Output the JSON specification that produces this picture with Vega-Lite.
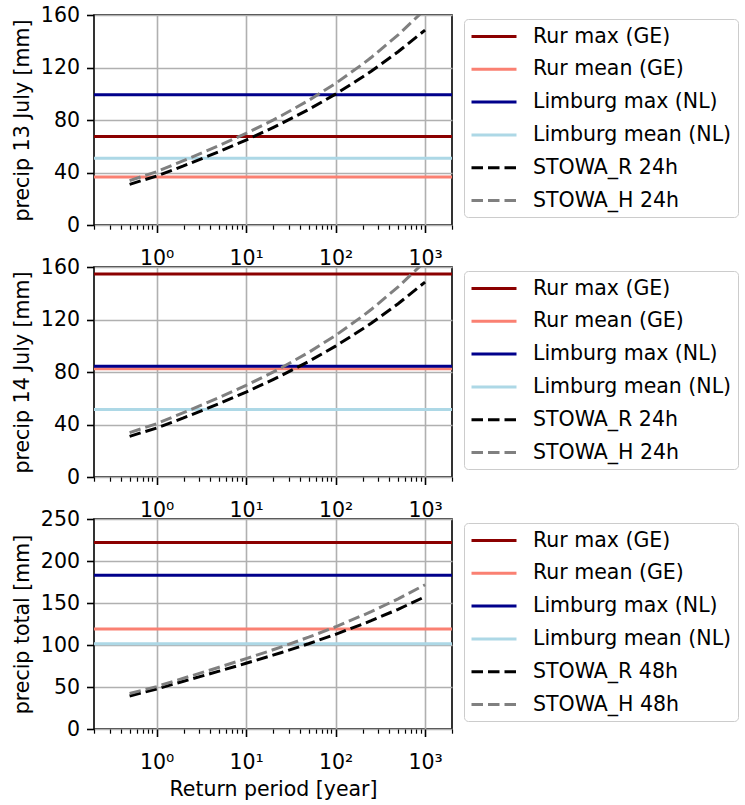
{
  "$schema": "https://vega.github.io/schema/vega-lite/v6.json",
  "padding": {"left": 11, "top": 4, "right": 0, "bottom": 0},
  "background": "white",
  "bounds": "flush",
  "spacing": 42,
  "datasets": {
    "c24": [
      {"series": "STOWA_R 24h", "T": 0.5, "precip": 31.0},
      {"series": "STOWA_R 24h", "T": 1, "precip": 37.3},
      {"series": "STOWA_R 24h", "T": 2, "precip": 45.0},
      {"series": "STOWA_R 24h", "T": 5, "precip": 55.9},
      {"series": "STOWA_R 24h", "T": 10, "precip": 64.7},
      {"series": "STOWA_R 24h", "T": 20, "precip": 74.2},
      {"series": "STOWA_R 24h", "T": 25, "precip": 77.4},
      {"series": "STOWA_R 24h", "T": 50, "precip": 88.0},
      {"series": "STOWA_R 24h", "T": 100, "precip": 99.7},
      {"series": "STOWA_R 24h", "T": 200, "precip": 112.7},
      {"series": "STOWA_R 24h", "T": 250, "precip": 117.1},
      {"series": "STOWA_R 24h", "T": 500, "precip": 132.0},
      {"series": "STOWA_R 24h", "T": 1000, "precip": 148.5},
      {"series": "STOWA_H 24h", "T": 0.5, "precip": 33.8},
      {"series": "STOWA_H 24h", "T": 1, "precip": 40.6},
      {"series": "STOWA_H 24h", "T": 2, "precip": 49.0},
      {"series": "STOWA_H 24h", "T": 5, "precip": 60.5},
      {"series": "STOWA_H 24h", "T": 10, "precip": 69.8},
      {"series": "STOWA_H 24h", "T": 20, "precip": 79.9},
      {"series": "STOWA_H 24h", "T": 25, "precip": 83.4},
      {"series": "STOWA_H 24h", "T": 50, "precip": 94.9},
      {"series": "STOWA_H 24h", "T": 100, "precip": 107.9},
      {"series": "STOWA_H 24h", "T": 200, "precip": 122.5},
      {"series": "STOWA_H 24h", "T": 250, "precip": 127.6},
      {"series": "STOWA_H 24h", "T": 500, "precip": 144.8},
      {"series": "STOWA_H 24h", "T": 1000, "precip": 164.3}
    ],
    "c48": [
      {"series": "STOWA_R 48h", "T": 0.5, "precip": 39.3},
      {"series": "STOWA_R 48h", "T": 1, "precip": 47.6},
      {"series": "STOWA_R 48h", "T": 2, "precip": 56.8},
      {"series": "STOWA_R 48h", "T": 5, "precip": 68.9},
      {"series": "STOWA_R 48h", "T": 10, "precip": 78.2},
      {"series": "STOWA_R 48h", "T": 20, "precip": 87.9},
      {"series": "STOWA_R 48h", "T": 25, "precip": 91.1},
      {"series": "STOWA_R 48h", "T": 50, "precip": 101.5},
      {"series": "STOWA_R 48h", "T": 100, "precip": 112.7},
      {"series": "STOWA_R 48h", "T": 200, "precip": 124.8},
      {"series": "STOWA_R 48h", "T": 250, "precip": 128.9},
      {"series": "STOWA_R 48h", "T": 500, "precip": 142.5},
      {"series": "STOWA_R 48h", "T": 1000, "precip": 157.5},
      {"series": "STOWA_H 48h", "T": 0.5, "precip": 42.3},
      {"series": "STOWA_H 48h", "T": 1, "precip": 50.5},
      {"series": "STOWA_H 48h", "T": 2, "precip": 60.4},
      {"series": "STOWA_H 48h", "T": 5, "precip": 73.5},
      {"series": "STOWA_H 48h", "T": 10, "precip": 83.7},
      {"series": "STOWA_H 48h", "T": 20, "precip": 94.3},
      {"series": "STOWA_H 48h", "T": 25, "precip": 97.8},
      {"series": "STOWA_H 48h", "T": 50, "precip": 109.3},
      {"series": "STOWA_H 48h", "T": 100, "precip": 121.7},
      {"series": "STOWA_H 48h", "T": 200, "precip": 135.2},
      {"series": "STOWA_H 48h", "T": 250, "precip": 139.7},
      {"series": "STOWA_H 48h", "T": 500, "precip": 154.9},
      {"series": "STOWA_H 48h", "T": 1000, "precip": 171.7}
    ],
    "h1": [
      {"series": "Rur max (GE)", "precip": 67.5},
      {"series": "Rur mean (GE)", "precip": 36.6},
      {"series": "Limburg max (NL)", "precip": 99.3},
      {"series": "Limburg mean (NL)", "precip": 50.9}
    ],
    "h2": [
      {"series": "Rur max (GE)", "precip": 154.7},
      {"series": "Rur mean (GE)", "precip": 82.5},
      {"series": "Limburg max (NL)", "precip": 84.3},
      {"series": "Limburg mean (NL)", "precip": 51.5}
    ],
    "h3": [
      {"series": "Rur max (GE)", "precip": 222},
      {"series": "Rur mean (GE)", "precip": 119},
      {"series": "Limburg max (NL)", "precip": 183},
      {"series": "Limburg mean (NL)", "precip": 101.5}
    ]
  },
  "vconcat": [
    {
      "width": 358, "height": 210,
      "layer": [
        {
          "data": {"name": "h1"},
          "mark": {"type": "rule", "strokeWidth": 3},
          "encoding": {
            "y": {"field": "precip", "type": "quantitative", "scale": {"domain": [0, 160], "nice": false}, "axis": {"title": "precip 13 July [mm]", "values": [0, 40, 80, 120, 160]}},
            "color": {"field": "series", "type": "nominal", "scale": {"domain": ["Rur max (GE)", "Rur mean (GE)", "Limburg max (NL)", "Limburg mean (NL)", "STOWA_R 24h", "STOWA_H 24h"], "range": ["#8b0000", "#fa8072", "#00008b", "#add8e6", "#000000", "#808080"]}, "legend": {"orient": "none", "legendX": 370, "legendY": 4}},
            "strokeDash": {"field": "series", "type": "nominal", "scale": {"domain": ["Rur max (GE)", "Rur mean (GE)", "Limburg max (NL)", "Limburg mean (NL)", "STOWA_R 24h", "STOWA_H 24h"], "range": [[1, 0], [1, 0], [1, 0], [1, 0], [11.5, 5], [11.5, 5]]}, "legend": {"orient": "none", "legendX": 370, "legendY": 4}}
          }
        },
        {
          "data": {"name": "c24"},
          "mark": {"type": "line", "strokeWidth": 3, "clip": true},
          "encoding": {
            "x": {"field": "T", "type": "quantitative", "scale": {"type": "log", "domain": [0.2, 2000], "nice": false},
              "axis": {"title": null, "grid": true,
                "values": [0.2, 0.3, 0.4, 0.5, 0.6, 0.7, 0.8, 0.9, 1, 2, 3, 4, 5, 6, 7, 8, 9, 10, 20, 30, 40, 50, 60, 70, 80, 90, 100, 200, 300, 400, 500, 600, 700, 800, 900, 1000, 2000],
                "labelExpr": "datum.value == 1 ? '10⁰' : datum.value == 10 ? '10¹' : datum.value == 100 ? '10²' : datum.value == 1000 ? '10³' : ''",
                "tickSize": {"condition": {"test": "datum.value == 1 || datum.value == 10 || datum.value == 100 || datum.value == 1000", "value": 7.5}, "value": 4.2},
                "tickWidth": {"condition": {"test": "datum.value == 1 || datum.value == 10 || datum.value == 100 || datum.value == 1000", "value": 1.6}, "value": 1.2},
                "gridColor": {"condition": {"test": "datum.value == 1 || datum.value == 10 || datum.value == 100 || datum.value == 1000", "value": "#b0b0b0"}, "value": "transparent"},
                "labelPadding": 16}},
            "y": {"field": "precip", "type": "quantitative"},
            "color": {"field": "series", "type": "nominal"},
            "strokeDash": {"field": "series", "type": "nominal"}
          }
        }
      ]
    },
    {
      "width": 358, "height": 210,
      "layer": [
        {
          "data": {"name": "h2"},
          "mark": {"type": "rule", "strokeWidth": 3},
          "encoding": {
            "y": {"field": "precip", "type": "quantitative", "scale": {"domain": [0, 160], "nice": false}, "axis": {"title": "precip 14 July [mm]", "values": [0, 40, 80, 120, 160]}},
            "color": {"field": "series", "type": "nominal", "scale": {"domain": ["Rur max (GE)", "Rur mean (GE)", "Limburg max (NL)", "Limburg mean (NL)", "STOWA_R 24h", "STOWA_H 24h"], "range": ["#8b0000", "#fa8072", "#00008b", "#add8e6", "#000000", "#808080"]}, "legend": {"orient": "none", "legendX": 370, "legendY": 4}},
            "strokeDash": {"field": "series", "type": "nominal", "scale": {"domain": ["Rur max (GE)", "Rur mean (GE)", "Limburg max (NL)", "Limburg mean (NL)", "STOWA_R 24h", "STOWA_H 24h"], "range": [[1, 0], [1, 0], [1, 0], [1, 0], [11.5, 5], [11.5, 5]]}, "legend": {"orient": "none", "legendX": 370, "legendY": 4}}
          }
        },
        {
          "data": {"name": "c24"},
          "mark": {"type": "line", "strokeWidth": 3, "clip": true},
          "encoding": {
            "x": {"field": "T", "type": "quantitative", "scale": {"type": "log", "domain": [0.2, 2000], "nice": false},
              "axis": {"title": null, "grid": true,
                "values": [0.2, 0.3, 0.4, 0.5, 0.6, 0.7, 0.8, 0.9, 1, 2, 3, 4, 5, 6, 7, 8, 9, 10, 20, 30, 40, 50, 60, 70, 80, 90, 100, 200, 300, 400, 500, 600, 700, 800, 900, 1000, 2000],
                "labelExpr": "datum.value == 1 ? '10⁰' : datum.value == 10 ? '10¹' : datum.value == 100 ? '10²' : datum.value == 1000 ? '10³' : ''",
                "tickSize": {"condition": {"test": "datum.value == 1 || datum.value == 10 || datum.value == 100 || datum.value == 1000", "value": 7.5}, "value": 4.2},
                "tickWidth": {"condition": {"test": "datum.value == 1 || datum.value == 10 || datum.value == 100 || datum.value == 1000", "value": 1.6}, "value": 1.2},
                "gridColor": {"condition": {"test": "datum.value == 1 || datum.value == 10 || datum.value == 100 || datum.value == 1000", "value": "#b0b0b0"}, "value": "transparent"},
                "labelPadding": 16}},
            "y": {"field": "precip", "type": "quantitative"},
            "color": {"field": "series", "type": "nominal"},
            "strokeDash": {"field": "series", "type": "nominal"}
          }
        }
      ]
    },
    {
      "width": 358, "height": 210,
      "layer": [
        {
          "data": {"name": "h3"},
          "mark": {"type": "rule", "strokeWidth": 3},
          "encoding": {
            "y": {"field": "precip", "type": "quantitative", "scale": {"domain": [0, 250], "nice": false}, "axis": {"title": "precip total [mm]", "values": [0, 50, 100, 150, 200, 250]}},
            "color": {"field": "series", "type": "nominal", "scale": {"domain": ["Rur max (GE)", "Rur mean (GE)", "Limburg max (NL)", "Limburg mean (NL)", "STOWA_R 48h", "STOWA_H 48h"], "range": ["#8b0000", "#fa8072", "#00008b", "#add8e6", "#000000", "#808080"]}, "legend": {"orient": "none", "legendX": 370, "legendY": 4}},
            "strokeDash": {"field": "series", "type": "nominal", "scale": {"domain": ["Rur max (GE)", "Rur mean (GE)", "Limburg max (NL)", "Limburg mean (NL)", "STOWA_R 48h", "STOWA_H 48h"], "range": [[1, 0], [1, 0], [1, 0], [1, 0], [11.5, 5], [11.5, 5]]}, "legend": {"orient": "none", "legendX": 370, "legendY": 4}}
          }
        },
        {
          "data": {"name": "c48"},
          "mark": {"type": "line", "strokeWidth": 3, "clip": true},
          "encoding": {
            "x": {"field": "T", "type": "quantitative", "scale": {"type": "log", "domain": [0.2, 2000], "nice": false},
              "axis": {"title": "Return period [year]", "grid": true, "titlePadding": 6,
                "values": [0.2, 0.3, 0.4, 0.5, 0.6, 0.7, 0.8, 0.9, 1, 2, 3, 4, 5, 6, 7, 8, 9, 10, 20, 30, 40, 50, 60, 70, 80, 90, 100, 200, 300, 400, 500, 600, 700, 800, 900, 1000, 2000],
                "labelExpr": "datum.value == 1 ? '10⁰' : datum.value == 10 ? '10¹' : datum.value == 100 ? '10²' : datum.value == 1000 ? '10³' : ''",
                "tickSize": {"condition": {"test": "datum.value == 1 || datum.value == 10 || datum.value == 100 || datum.value == 1000", "value": 7.5}, "value": 4.2},
                "tickWidth": {"condition": {"test": "datum.value == 1 || datum.value == 10 || datum.value == 100 || datum.value == 1000", "value": 1.6}, "value": 1.2},
                "gridColor": {"condition": {"test": "datum.value == 1 || datum.value == 10 || datum.value == 100 || datum.value == 1000", "value": "#b0b0b0"}, "value": "transparent"},
                "labelPadding": 16}},
            "y": {"field": "precip", "type": "quantitative"},
            "color": {"field": "series", "type": "nominal"},
            "strokeDash": {"field": "series", "type": "nominal"}
          }
        }
      ]
    }
  ],
  "resolve": {
    "scale": {"x": "independent", "y": "independent", "color": "independent", "strokeDash": "independent"},
    "legend": {"color": "independent", "strokeDash": "independent"},
    "axis": {"x": "independent", "y": "independent"}
  },
  "config": {
    "font": "DejaVu Sans",
    "view": {"stroke": "#000000", "strokeWidth": 1.6},
    "axis": {
      "domain": false,
      "labelFont": "DejaVu Sans",
      "titleFont": "DejaVu Sans",
      "labelFontSize": 20.5,
      "titleFontSize": 20.5,
      "titleFontWeight": "normal",
      "labelColor": "#000000",
      "titleColor": "#000000",
      "tickColor": "#000000",
      "tickWidth": 1.6,
      "tickSize": 7.5,
      "labelPadding": 7,
      "gridColor": "#b0b0b0",
      "gridWidth": 1.6,
      "labelFlush": false,
      "labelOverlap": false,
      "titlePadding": 8
    },
    "legend": {
      "title": null,
      "symbolType": "M-1,0H3.5",
      "symbolSize": 400,
      "symbolStrokeWidth": 3,
      "labelFont": "DejaVu Sans",
      "labelFontSize": 20.5,
      "labelColor": "#000000",
      "labelLimit": 400,
      "labelOffset": 40,
      "strokeColor": "#cccccc",
      "fillColor": "#ffffff",
      "cornerRadius": 4,
      "padding": 6,
      "rowPadding": 10.8
    }
  }
}
